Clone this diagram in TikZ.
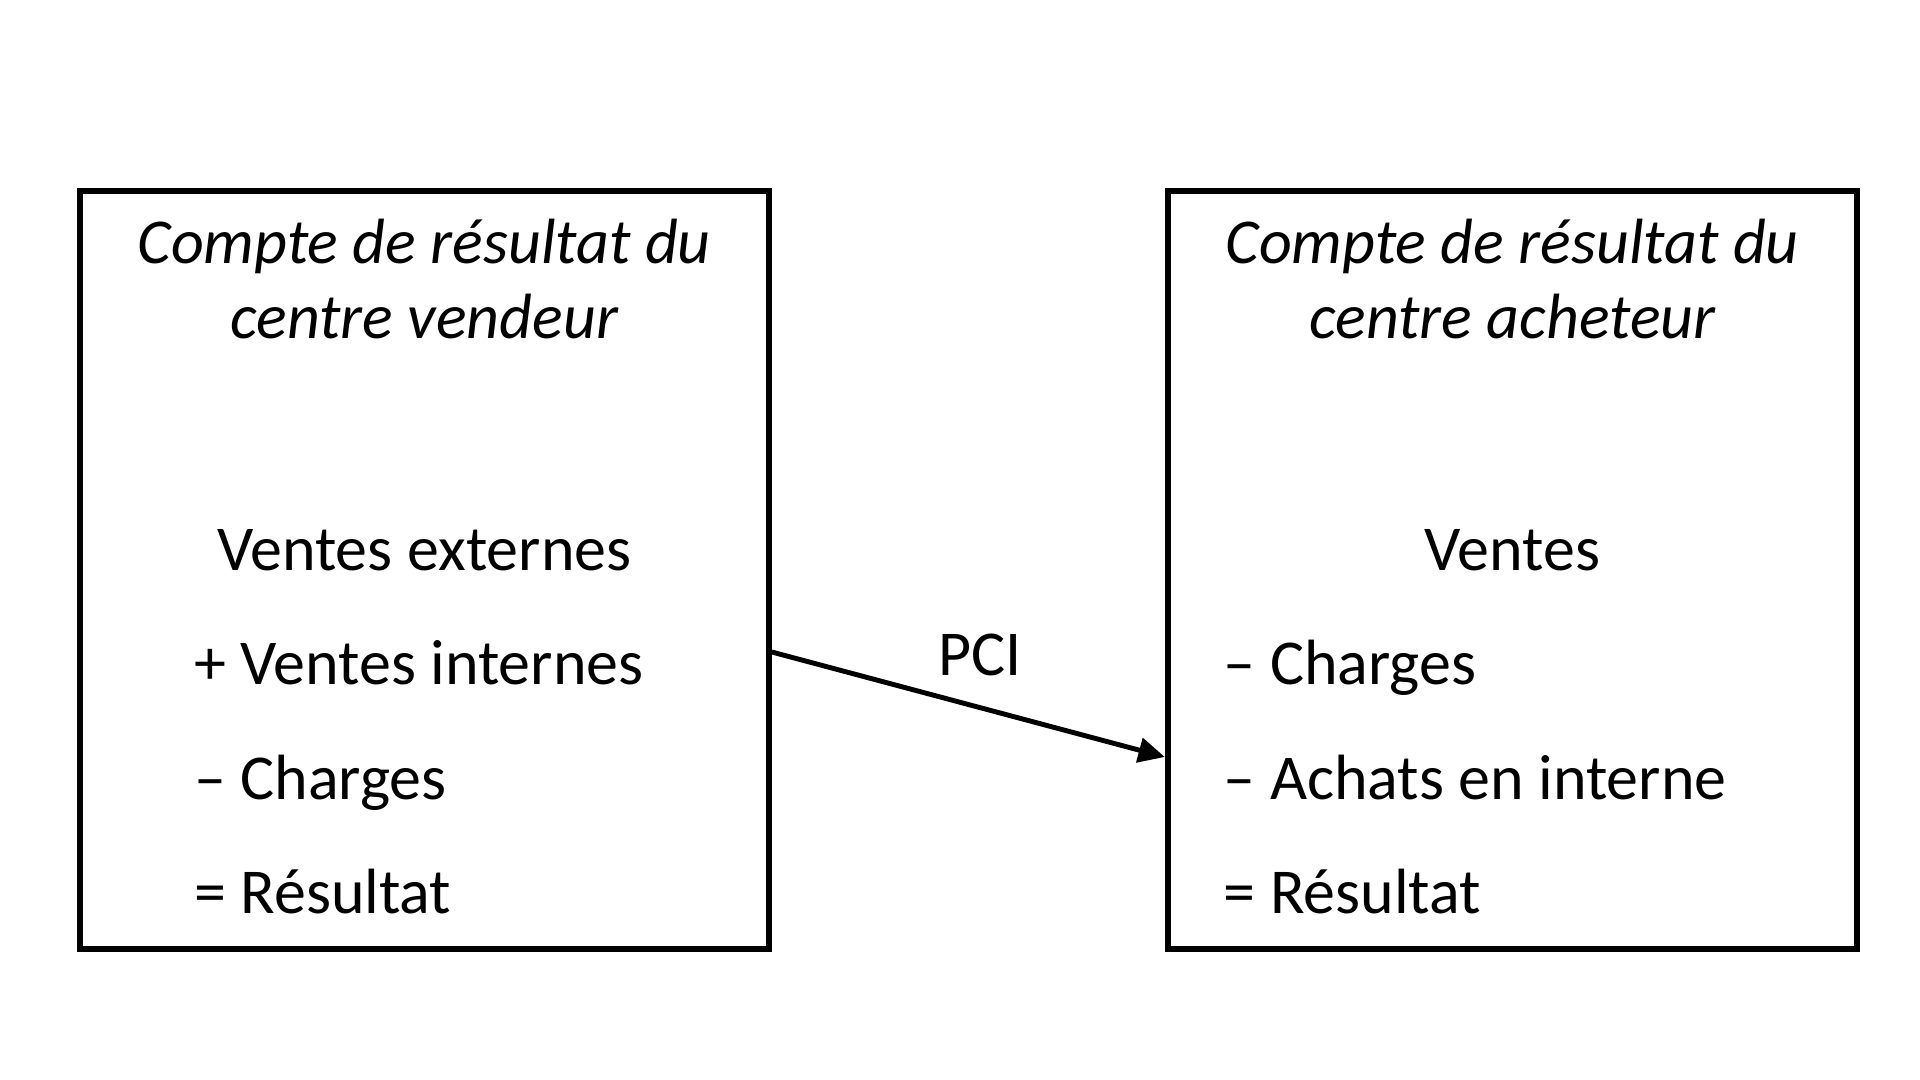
\documentclass[tikz,border=0pt]{standalone}
\usepackage{fontspec}
\setmainfont{Carlito}
\usetikzlibrary{arrows.meta}

\tikzset{
  compte/.style={draw, line width=1.7pt, minimum width=6.89cm, minimum height=7.58cm, inner sep=0pt},
  titre/.style={font=\fontsize{18.2}{21.5}\selectfont\itshape, align=center, anchor=base},
  ligne/.style={anchor=base west, inner sep=0pt},
  flux/.style={line width=1.4pt, -{Triangle[length=7.5pt, width=7pt]}}
}

\begin{document}
\begin{tikzpicture}[font=\fontsize{18.2}{21}\selectfont]
  \useasboundingbox (0,0) rectangle (19.2,10.8);

  % Boxes of the two centres
  \node[compte] (vendeur) at (4.243,5.10) {};
  \node[compte] (acheteur) at (15.123,5.10) {};

  % Titles (base = last line)
  \node[titre] (titre-vendeur) at (4.243,7.41) {Compte de résultat du\\centre vendeur};
  \node[titre] (titre-acheteur) at (15.123,7.41) {Compte de résultat du\\centre acheteur};

  % Seller lines
  \node[anchor=base, inner sep=0pt] (v-ext) at (4.243,5.09) {Ventes externes};
  \node[ligne] (v-int) at (1.935,3.95) {+ Ventes internes};
  \node[ligne] (v-ch) at (1.935,2.80) {– Charges};
  \node[ligne] (v-res) at (1.935,1.66) {= Résultat};

  % Buyer lines
  \node[anchor=base, inner sep=0pt] (a-ventes) at (15.123,5.09) {Ventes};
  \node[ligne] (a-ch) at (12.23,3.95) {– Charges};
  \node[ligne] (a-achats) at (12.23,2.80) {– Achats en interne};
  \node[ligne] (a-res) at (12.23,1.66) {= Résultat};

  % Internal transfer price
  \coordinate (pci-out) at (vendeur.east |- 0,4.28);
  \coordinate (pci-in) at (acheteur.west |- 0,3.23);
  \draw[flux] (pci-out) -- (pci-in);
  \node[anchor=base, inner sep=0pt] (pci) at (9.80,4.04) {PCI};
\end{tikzpicture}
\end{document}
